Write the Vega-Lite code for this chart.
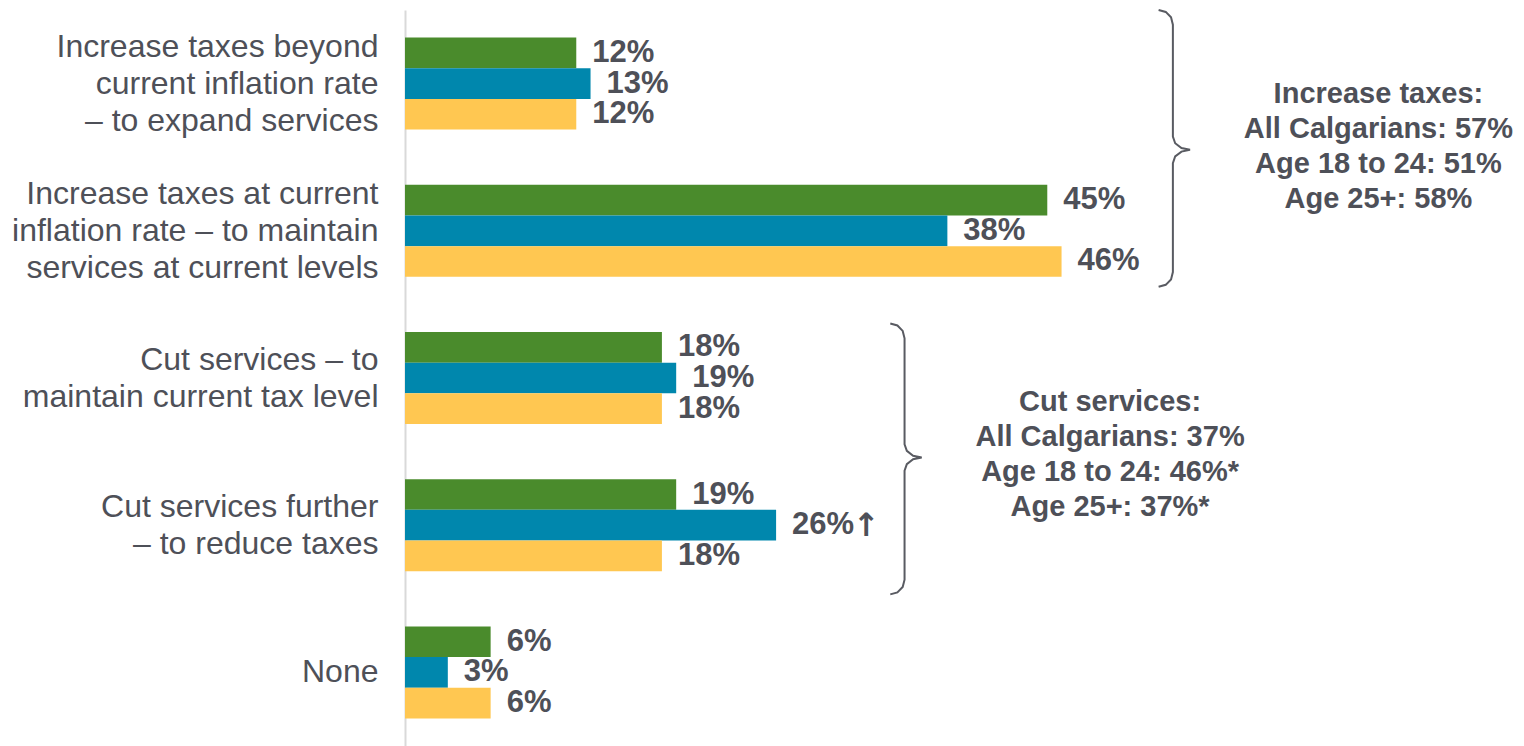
{
  "$schema": "https://vega.github.io/schema/vega-lite/v6.json",
  "width": 1119,
  "height": 736,
  "autosize": {"type": "none"},
  "padding": {"left": 405, "top": 10, "right": 0, "bottom": 0},
  "background": "white",
  "config": {"view": {"stroke": null}, "font": "Liberation Sans"},
  "datasets": {
    "bars": [
      {"category": "Increase taxes beyond|current inflation rate|– to expand services", "group": "All Calgarians", "value": 12, "label": "12%", "arrow": ""},
      {"category": "Increase taxes beyond|current inflation rate|– to expand services", "group": "Age 18 to 24", "value": 13, "label": "13%", "arrow": ""},
      {"category": "Increase taxes beyond|current inflation rate|– to expand services", "group": "Age 25+", "value": 12, "label": "12%", "arrow": ""},
      {"category": "Increase taxes at current|inflation rate – to maintain|services at current levels", "group": "All Calgarians", "value": 45, "label": "45%", "arrow": ""},
      {"category": "Increase taxes at current|inflation rate – to maintain|services at current levels", "group": "Age 18 to 24", "value": 38, "label": "38%", "arrow": ""},
      {"category": "Increase taxes at current|inflation rate – to maintain|services at current levels", "group": "Age 25+", "value": 46, "label": "46%", "arrow": ""},
      {"category": "Cut services – to|maintain current tax level", "group": "All Calgarians", "value": 18, "label": "18%", "arrow": ""},
      {"category": "Cut services – to|maintain current tax level", "group": "Age 18 to 24", "value": 19, "label": "19%", "arrow": ""},
      {"category": "Cut services – to|maintain current tax level", "group": "Age 25+", "value": 18, "label": "18%", "arrow": ""},
      {"category": "Cut services further|– to reduce taxes", "group": "All Calgarians", "value": 19, "label": "19%", "arrow": ""},
      {"category": "Cut services further|– to reduce taxes", "group": "Age 18 to 24", "value": 26, "label": "26%", "arrow": "↑"},
      {"category": "Cut services further|– to reduce taxes", "group": "Age 25+", "value": 18, "label": "18%", "arrow": ""},
      {"category": "None", "group": "All Calgarians", "value": 6, "label": "6%", "arrow": ""},
      {"category": "None", "group": "Age 18 to 24", "value": 3, "label": "3%", "arrow": ""},
      {"category": "None", "group": "Age 25+", "value": 6, "label": "6%", "arrow": ""}
    ],
    "braces": [
      {"brace": "a", "i": 1, "x": 52.8, "y": 0.0},
      {"brace": "a", "i": 2, "x": 53.3, "y": 0.013},
      {"brace": "a", "i": 3, "x": 53.67, "y": 0.05},
      {"brace": "a", "i": 4, "x": 53.8, "y": 0.1},
      {"brace": "a", "i": 5, "x": 53.8, "y": 0.86},
      {"brace": "a", "i": 6, "x": 53.96, "y": 0.905},
      {"brace": "a", "i": 7, "x": 54.4, "y": 0.938},
      {"brace": "a", "i": 8, "x": 55.0, "y": 0.95},
      {"brace": "a", "i": 9, "x": 54.4, "y": 0.962},
      {"brace": "a", "i": 10, "x": 53.96, "y": 0.995},
      {"brace": "a", "i": 11, "x": 53.8, "y": 1.04},
      {"brace": "a", "i": 12, "x": 53.8, "y": 1.78},
      {"brace": "a", "i": 13, "x": 53.67, "y": 1.83},
      {"brace": "a", "i": 14, "x": 53.3, "y": 1.867},
      {"brace": "a", "i": 15, "x": 52.8, "y": 1.88},
      {"brace": "b", "i": 1, "x": 34.0, "y": 2.13},
      {"brace": "b", "i": 2, "x": 34.5, "y": 2.143},
      {"brace": "b", "i": 3, "x": 34.87, "y": 2.18},
      {"brace": "b", "i": 4, "x": 35.0, "y": 2.23},
      {"brace": "b", "i": 5, "x": 35.0, "y": 2.95},
      {"brace": "b", "i": 6, "x": 35.16, "y": 2.995},
      {"brace": "b", "i": 7, "x": 35.6, "y": 3.028},
      {"brace": "b", "i": 8, "x": 36.2, "y": 3.04},
      {"brace": "b", "i": 9, "x": 35.6, "y": 3.052},
      {"brace": "b", "i": 10, "x": 35.16, "y": 3.085},
      {"brace": "b", "i": 11, "x": 35.0, "y": 3.13},
      {"brace": "b", "i": 12, "x": 35.0, "y": 3.87},
      {"brace": "b", "i": 13, "x": 34.87, "y": 3.92},
      {"brace": "b", "i": 14, "x": 34.5, "y": 3.957},
      {"brace": "b", "i": 15, "x": 34.0, "y": 3.97}
    ],
    "notes": [
      {"x": 68.2, "y": 0.57, "text": "Increase taxes:\nAll Calgarians: 57%\nAge 18 to 24: 51%\nAge 25+: 58%"},
      {"x": 49.4, "y": 2.66, "text": "Cut services:\nAll Calgarians: 37%\nAge 18 to 24: 46%*\nAge 25+: 37%*"}
    ]
  },
  "layer": [
    {
      "data": {"name": "bars"},
      "encoding": {
        "y": {
          "field": "category", "type": "nominal", "sort": null,
          "scale": {"paddingInner": 0.375, "paddingOuter": 0.1875},
          "axis": {
            "title": null, "domainColor": "#d9d9d9", "domainWidth": 2,
            "ticks": false, "labelPadding": 27, "labelFontSize": 32,
            "labelColor": "#4e5058", "labelLineHeight": 37,
            "labelExpr": "split(datum.label, '|')", "labelLimit": 500,
            "labelOffset": {
              "condition": [
                {"test": "length(split(datum.label, '|')) == 3", "value": -37},
                {"test": "length(split(datum.label, '|')) == 2", "value": -18.5}
              ],
              "value": 0
            }
          }
        },
        "yOffset": {"field": "group", "type": "nominal", "sort": ["All Calgarians", "Age 18 to 24", "Age 25+"]},
        "x": {"field": "value", "type": "quantitative", "scale": {"domain": [0, 78.4], "nice": false}, "axis": null}
      },
      "layer": [
        {
          "mark": {"type": "bar"},
          "encoding": {
            "color": {
              "field": "group", "type": "nominal",
              "scale": {"domain": ["All Calgarians", "Age 18 to 24", "Age 25+"], "range": ["#4a8b2c", "#0087ad", "#ffc751"]},
              "legend": null
            }
          }
        },
        {
          "mark": {"type": "text", "align": "left", "baseline": "middle", "dx": 16, "fontSize": 31, "fontWeight": "bold", "color": "#4e5058"},
          "encoding": {"text": {"field": "label", "type": "nominal"}}
        },
        {
          "mark": {"type": "text", "align": "left", "baseline": "middle", "dx": 77, "dy": 1, "fontSize": 32, "font": "DejaVu Sans", "fontWeight": "bold", "color": "#4e5058"},
          "encoding": {"text": {"field": "arrow", "type": "nominal"}}
        }
      ]
    },
    {
      "layer": [
        {
          "data": {"name": "braces"},
          "mark": {"type": "line", "color": "#595b62", "strokeWidth": 2},
          "encoding": {
            "x": {"field": "x", "type": "quantitative", "scale": {"domain": [0, 78.4], "nice": false}, "axis": null},
            "y": {"field": "y", "type": "quantitative", "scale": {"domain": [0, 5], "reverse": true, "nice": false, "zero": false}, "axis": null},
            "detail": {"field": "brace", "type": "nominal"},
            "order": {"field": "i", "type": "quantitative"}
          }
        },
        {
          "data": {"name": "notes"},
          "mark": {"type": "text", "align": "center", "baseline": "middle", "fontSize": 29, "fontWeight": "bold", "color": "#4e5058", "lineBreak": "\n", "lineHeight": 35},
          "encoding": {
            "x": {"field": "x", "type": "quantitative", "scale": {"domain": [0, 78.4], "nice": false}, "axis": null},
            "y": {"field": "y", "type": "quantitative", "scale": {"domain": [0, 5], "reverse": true, "nice": false, "zero": false}, "axis": null},
            "text": {"field": "text", "type": "nominal"}
          }
        }
      ]
    }
  ],
  "resolve": {"scale": {"y": "independent"}}
}
